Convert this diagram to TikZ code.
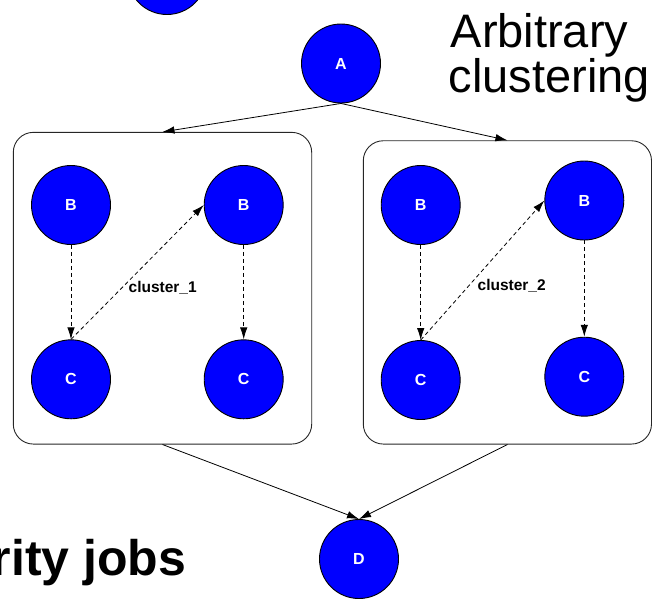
\documentclass[tikz,border=0pt]{standalone}
\usepackage{fontspec}
\setmainfont{Liberation Sans}
\usetikzlibrary{arrows.meta}
\definecolor{jobblue}{RGB}{0,0,255}
\begin{document}
\begin{tikzpicture}[x=1pt,y=-1pt,
  job/.style={circle, draw=black, fill=jobblue, line width=0.9pt,
    minimum size=79pt, inner sep=0pt, text=white,
    font=\fontsize{16}{16}\selectfont\bfseries},
  cluster/.style={draw=black!85, line width=0.9pt, rounded corners=20pt,
    inner sep=0pt},
  flow/.style={-{Latex[length=12pt,width=7.5pt]}, line width=0.8pt},
  dep/.style={flow, dash pattern=on 4pt off 3pt},
  tag/.style={font=\fontsize{15.5}{15.5}\selectfont\bfseries, inner sep=0pt},
  slide/.style={inner sep=0pt, anchor=base west,
    font=\fontsize{47}{47}\selectfont},
]
\useasboundingbox (0,0) rectangle (652,598);

% cluster frames
\node[cluster, minimum width=298.4pt, minimum height=311.7pt] (k1) at (162.5,288.2) {};
\node[cluster, minimum width=288.2pt, minimum height=303.3pt] (k2) at (507.4,292.4) {};

% jobs
\node[job] (top) at (167,-25) {};
\node[job] (A) at (341,63.5) {A};
\node[job] (b1) at (71,205) {B};
\node[job] (b2) at (243.7,205) {B};
\node[job] (c1) at (71,379.3) {C};
\node[job] (c2) at (243.7,379.3) {C};
\node[job] (b3) at (420.7,205) {B};
\node[job] (b4) at (584.3,200.5) {B};
\node[job] (c3) at (420.7,380) {C};
\node[job] (c4) at (584.3,376.7) {C};
\node[job] (D) at (359,559) {D};

% cluster labels
\node[tag] (t1) at (162.7,288) {cluster\_1};
\node[tag] (t2) at (511.7,285.7) {cluster\_2};

% solid flow between A, the clusters and D
\draw[flow] (A.south) -- (k1.north);
\draw[flow] (A.south) -- (k2.north);
\draw[flow] (k1.south) -- (D.north);
\draw[flow] (k2.south) -- (D.north);

% dependencies inside the clusters
\draw[dep] (b1.south) -- (c1.north);
\draw[dep] (c1.north) -- (b2.west);
\draw[dep] (b2.south) -- (c2.north);
\draw[dep] (b3.south) -- (c3.north);
\draw[dep] (c3.north) -- (b4.west);
\draw[dep] (b4.south) -- (c4.north);

% slide text
\node[slide] (h1) at (450.5,47) {Arbitrary};
\node[slide] (h2) at (448.5,92) {clustering};
\node[inner sep=0pt, anchor=base east] (jobs) at (186.5,575)
  {\fontsize{50}{50}\selectfont\bfseries rity jobs};
\end{tikzpicture}
\end{document}
